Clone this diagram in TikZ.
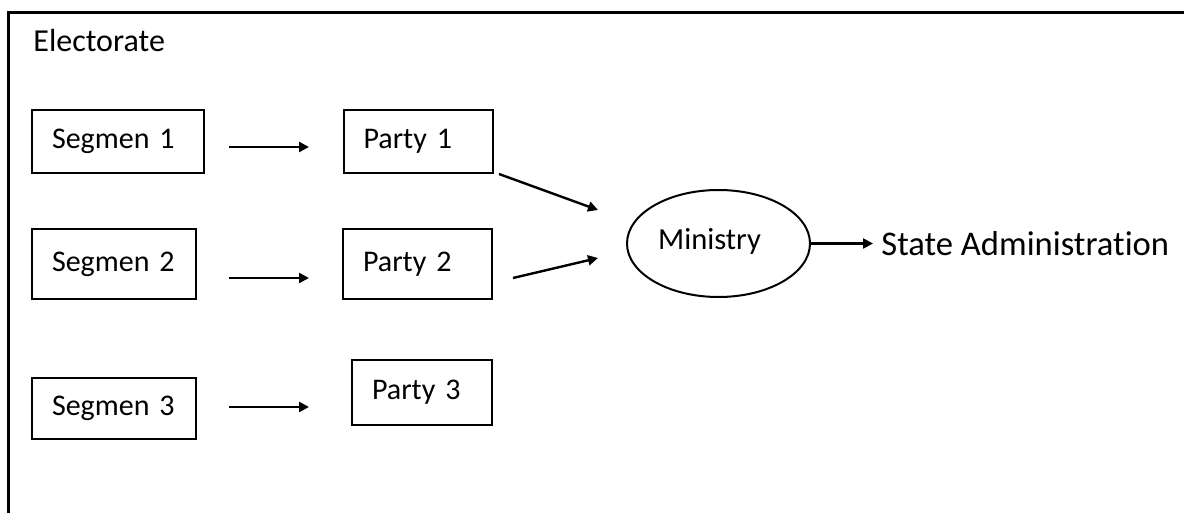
\documentclass[tikz,border=0pt]{standalone}
\usepackage{fontspec}
\setmainfont{Carlito}[Ligatures=NoCommon]
\usepackage{tikz}
\usetikzlibrary{shapes.geometric, arrows.meta, positioning}
\tikzstyle{segment} = [rectangle, draw=black, line width=1pt, inner xsep=10pt, inner ysep=0pt, align=left, font=\fontsize{15}{18}\selectfont]
\tikzstyle{party} = [rectangle, draw=black, line width=1pt, inner xsep=10pt, inner ysep=0pt, align=left, font=\fontsize{15}{18}\selectfont]
\tikzstyle{govt} = [ellipse, draw=black, line width=1pt, inner sep=0pt, minimum width=91.5pt, minimum height=53.5pt, font=\fontsize{15.3}{18}\selectfont]
\tikzstyle{arrow} = [line width=1.2pt,->,>={Triangle[length=5pt,width=5pt]}]

\begin{document}
\begin{tikzpicture}[node distance=150pt]
   \useasboundingbox (0,0) rectangle (592pt,-256.5pt);
   \draw [line width=1.5pt] (4pt,-262pt) -- (4pt,-6.5pt) -- (598pt,-6.5pt);
   \node (elec) [anchor=base west, inner sep=0pt, font=\fontsize{16}{19}\selectfont] at (16.5pt,-26pt) {Electorate};

   \node (seg1) [segment, text width=66pt, minimum height=31.5pt] at (59pt,-70.75pt) {Segmen 1};
   \node (seg2) [segment, text width=62pt, minimum height=35pt] at (57pt,-132pt) {Segmen 2};
   \node (seg3) [segment, text width=62pt, minimum height=30.5pt] at (57pt,-204.25pt) {Segmen 3};
   \node (party1) [party, right of=seg1, text width=54.5pt, minimum height=31.5pt] {Party 1};
   \node (party2) [party, right of=seg2, xshift=1.75pt, text width=54.5pt, minimum height=35pt] {Party 2};
   \node (party3) [party, right of=seg3, xshift=4pt, yshift=8pt, text width=50pt, minimum height=32.5pt] {Party 3};
   \node (ministry) [govt] at (359.25pt,-121.75pt) {\hspace*{-9pt}\raisebox{4.5pt}{Ministry}};
   \node (state) [right=31pt of ministry, inner xsep=4pt, font=\fontsize{17.3}{20}\selectfont] {State Administration};

   \draw [arrow, shorten <=12pt, shorten >=16.75pt] ([yshift=-2.75pt]seg1.east) -- ([yshift=-2.75pt]party1.west);
   \draw [arrow, shorten <=16pt, shorten >=16.5pt] ([yshift=-7pt]seg2.east) -- ([yshift=-7pt]party2.west);
   \draw [arrow, shorten <=16pt, shorten >=21pt] ([yshift=0.75pt]seg3.east) -- ([yshift=-7.25pt]party3.west);
   \draw [arrow] ([xshift=2.75pt]party1.south east) -- ([xshift=-14pt, yshift=16.75pt]ministry.west);
   \draw [arrow] ([xshift=10pt, yshift=-7pt]party2.east) -- ([xshift=-14pt, yshift=-7.25pt]ministry.west);
   \draw [arrow] (ministry) -- (state);
\end{tikzpicture}
\end{document}
